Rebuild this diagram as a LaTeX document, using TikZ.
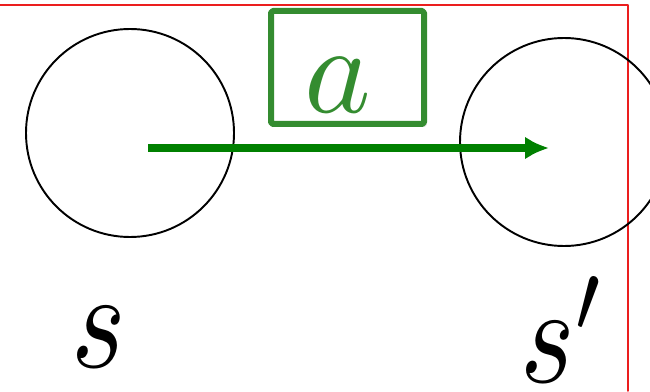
\documentclass[tikz,border=0pt]{standalone}
\usepackage{graphicx}
\usepackage{amsmath}
\usetikzlibrary{arrows.meta,shadows}
\definecolor{actgreen}{RGB}{0,128,0}
\definecolor{boxgreen}{RGB}{52,140,48}
\definecolor{framered}{RGB}{235,30,30}

\tikzset{
  state/.style={circle,draw=black,line width=1.1pt,minimum size=4.16cm,inner sep=0pt},
  statelabel/.style={anchor=base,inner sep=0pt}
}

\begin{document}
\begin{tikzpicture}[>=Latex, line cap=round, line join=round]
\useasboundingbox (0,0) rectangle (13,7.82);

% ---------- frame ----------
\draw[framered,line width=0.85pt] (0,7.72) -- (12.56,7.72) -- (12.56,0);

% ---------- states ----------
\node[state] (s) at (2.60,5.16) {};
\node[state] (sp) at (11.28,4.98) {};
\node[statelabel] (slab) at (1.98,0.48) {\scalebox{6.6}[8.0]{$s$}};
\node[statelabel,anchor=base west] (splab) at (10.40,0.16) {\scalebox{6.6}[8.0]{$s'$}};

% ---------- action ----------
\coordinate (astart) at (2.96,4.86);
\coordinate (aend) at (10.98,4.86);
\draw[actgreen,line width=0.16cm,line cap=butt,-{Latex[length=0.48cm,width=0.46cm]}] (astart) -- (aend);

\node[draw=boxgreen,fill=white,line width=0.12cm,rounded corners=1pt,
      minimum width=3.06cm,minimum height=2.26cm,inner sep=0pt,
      text height=1.8cm,text depth=0pt,text=boxgreen,
      drop shadow={shadow xshift=1.5pt,shadow yshift=-1.5pt,opacity=0.3}]
  (act) at (6.95,6.47) {\hspace*{-0.2cm}\scalebox{7.2}{$a$}\hspace*{0.2cm}};

\end{tikzpicture}
\end{document}
